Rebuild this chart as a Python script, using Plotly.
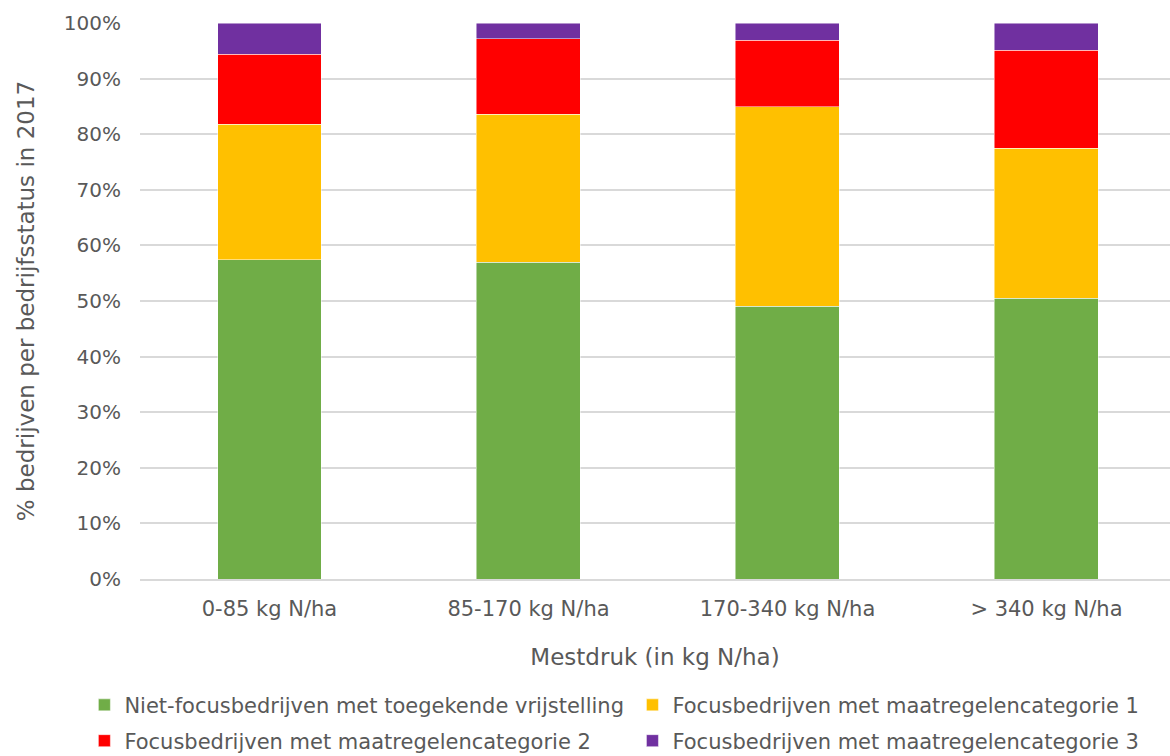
import plotly.graph_objects as go

categories = ["0-85 kg N/ha", "85-170 kg N/ha", "170-340 kg N/ha", "> 340 kg N/ha"]
series_names = [
    "Niet-focusbedrijven met toegekende vrijstelling",
    "Focusbedrijven met maatregelencategorie 1",
    "Focusbedrijven met maatregelencategorie 2",
    "Focusbedrijven met maatregelencategorie 3",
]
niet_focus = [57.4, 57.0, 49.1, 50.5]
cat1 = [24.4, 26.6, 35.8, 27.0]
cat2 = [12.6, 13.6, 12.0, 17.6]
cat3 = [5.6, 2.8, 3.1, 4.9]
colors = ["#70AD47", "#FFC000", "#FF0000", "#7030A0"]
legend_ids = ["legend", "legend2", "legend3", "legend4"]

FONT = "DejaVu Sans, Arial, sans-serif"
TXT = "#595959"

fig = go.Figure()
for name, vals, col, lg in zip(series_names, [niet_focus, cat1, cat2, cat3], colors, legend_ids):
    fig.add_trace(go.Bar(
        x=categories, y=[v / 100 for v in vals], name=name,
        marker=dict(color=col, line=dict(color="rgba(255,255,255,0.6)", width=0.8)),
        legend=lg, showlegend=True,
    ))

legend_common = dict(
    orientation="h", xanchor="left", yanchor="middle",
    font=dict(family=FONT, size=21, color=TXT),
    bgcolor="rgba(0,0,0,0)", itemclick=False, visible=True,
)

col1_x = -0.0540
col2_x = 0.4781
row1_y = -0.227
row2_y = -0.2914

fig.update_layout(
    width=1170, height=756,
    showlegend=True,
    margin=dict(l=140, r=0, t=23, b=177, autoexpand=False),
    paper_bgcolor="white", plot_bgcolor="white",
    barmode="stack", bargap=0.5985,
    font=dict(family=FONT, size=20, color=TXT),
    xaxis=dict(
        title=dict(text="Mestdruk (in kg N/ha)", font=dict(size=23, color=TXT), standoff=29),
        tickfont=dict(size=21, color=TXT),
        range=[-0.5, 3.477],
        showline=True, linecolor="#D9D9D9", linewidth=1.5,
        ticks="", showgrid=False, ticklabelstandoff=10,
    ),
    yaxis=dict(
        title=dict(text="% bedrijven per bedrijfsstatus in 2017", font=dict(size=23, color=TXT), standoff=22),
        range=[0, 1], tickformat=".0%", dtick=0.1,
        tickfont=dict(size=20, color=TXT),
        showgrid=True, gridcolor="#D9D9D9", gridwidth=1.5,
        zeroline=False, ticks="", ticklabelstandoff=18,
    ),
    legend=dict(x=col1_x, y=row1_y, **legend_common),
    legend2=dict(x=col2_x, y=row1_y, **legend_common),
    legend3=dict(x=col1_x, y=row2_y, **legend_common),
    legend4=dict(x=col2_x, y=row2_y, **legend_common),
)

fig.write_html(
    "out.html",
    config={"displayModeBar": False},
    post_script="document.body.style.margin='0';document.body.style.overflow='hidden';",
)
